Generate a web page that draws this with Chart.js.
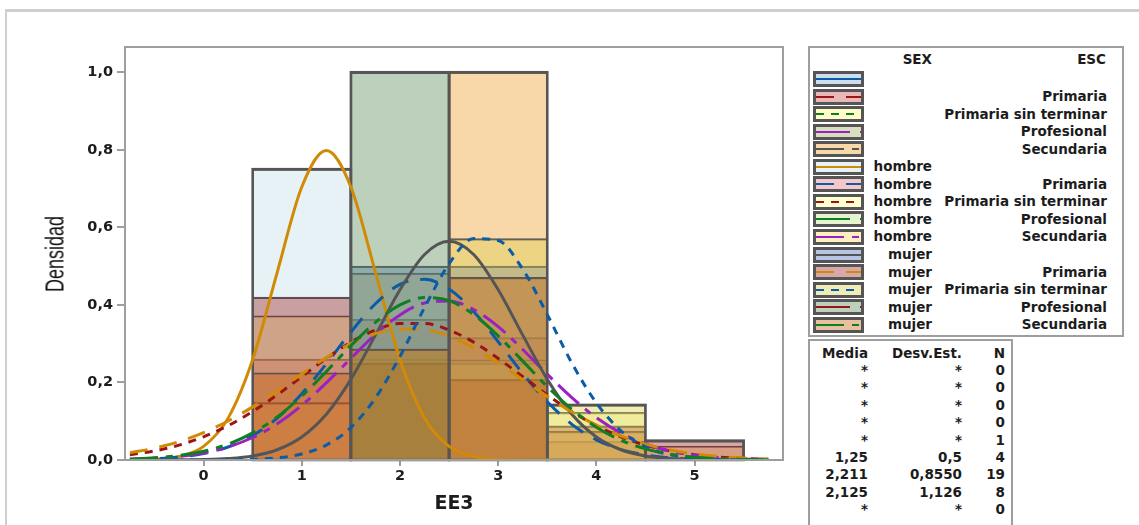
<!DOCTYPE html>
<html>
<head>
<meta charset="utf-8">
<script src="https://cdn.jsdelivr.net/npm/chart.js@4.4.1/dist/chart.umd.min.js"></script>
<style>
body{margin:0;background:#fff;width:1139px;height:525px;overflow:hidden;position:relative;font-family:'DejaVu Sans',sans-serif;color:#1c1c1c;}
#frame{position:absolute;left:5px;top:9px;width:1300px;height:700px;border-left:2px solid #cfcfcf;border-top:3px solid #cfcfcf;}
#chart{position:absolute;left:0;top:0;}
.ttl{position:absolute;white-space:nowrap;}
#ytitle{left:55px;top:254px;font-family:'Liberation Sans',sans-serif;font-size:25px;color:#111;transform:translate(-50%,-50%) rotate(-90deg) scale(0.72,1);}
#xtitle{left:454px;top:502px;font-size:19px;font-weight:700;transform:translate(-50%,-50%);}
.box{position:absolute;border:2px solid #9e9e9e;background:#fff;font-size:13.5px;font-weight:700;}
#legend{left:808px;top:46px;width:312px;height:287px;}
#stats{left:808px;top:339px;width:201px;height:230px;}
.cell{position:absolute;text-align:right;line-height:17px;height:17px;white-space:nowrap;}
.sw{position:absolute;left:3px;width:45px;height:10px;border:3px solid #555;}
</style>
</head>
<body>
<div id="frame"></div>
<canvas id="chart" width="1139" height="525"></canvas>
<div class="ttl" id="ytitle">Densidad</div>
<div class="ttl" id="xtitle">EE3</div>
<div class="box" id="legend"></div>
<div class="box" id="stats"></div>
<script>
// intervalos del histograma y marcas de los ejes
var binCenters = [1, 2, 3, 4, 5];
var xTicks = [0, 1, 2, 3, 4, 5];
var yTicks = [0, 0.2, 0.4, 0.6, 0.8, 1.0];

// grupos SEX / ESC (orden de la leyenda)
var sexLabels = ['', '', '', '', '', 'hombre', 'hombre', 'hombre', 'hombre', 'hombre', 'mujer', 'mujer', 'mujer', 'mujer', 'mujer'];
var escLabels = ['', 'Primaria', 'Primaria sin terminar', 'Profesional', 'Secundaria', '', 'Primaria', 'Primaria sin terminar', 'Profesional', 'Secundaria', '', 'Primaria', 'Primaria sin terminar', 'Profesional', 'Secundaria'];

// tabla Media / Desv.Est. / N
var mediaCol = ['*', '*', '*', '*', '*', '1,25', '2,211', '2,125', '*'];
var desvCol = ['*', '*', '*', '*', '*', '0,5', '0,8550', '1,126', '*'];
var nCol = ['0', '0', '0', '0', '1', '4', '19', '8', '0'];

// densidad de cada grupo por intervalo
var densBlankSec = [null, null, 1.0, null, null];
var densHombre = [0.75, 0.26, null, null, null];
var densHombrePri = [0.26, 0.363, 0.316, 0.048, null];
var densHombrePST = [0.372, 0.25, 0.249, 0.123, null];
var densHombreSec = [0.148, 0.482, 0.258, 0.074, 0.036];
var densMujer = [null, 0.5, 0.5, null, null];
var densMujerPri = [0.42, 0.25, 0.208, 0.088, 0.05];
var densMujerPST = [null, 0.286, 0.571, 0.142, null];
var densMujerProf = [null, 1.0, null, null, null];
var densMujerSec = [0.225, 0.286, 0.471, null, null];

// curvas de ajuste normal
var xCurve = [-0.75, -0.5, -0.25, 0, 0.25, 0.5, 0.75, 1, 1.25, 1.5, 1.75, 2, 2.25, 2.5, 2.75, 3, 3.25, 3.5, 3.75, 4, 4.25, 4.5, 4.75, 5, 5.25, 5.5, 5.75];
var curveHombre = [0.0003, 0.0017, 0.0089, 0.035, 0.108, 0.259, 0.484, 0.704, 0.798, 0.704, 0.484, 0.259, 0.108, 0.035, 0.0089, 0.0017, 0.0003, 0, 0, 0, 0, 0, 0, 0, 0, 0, 0];
var curveHombrePri = [0.0012, 0.0031, 0.0074, 0.0165, 0.0336, 0.063, 0.108, 0.171, 0.248, 0.330, 0.403, 0.453, 0.466, 0.441, 0.383, 0.305, 0.223, 0.150, 0.092, 0.052, 0.027, 0.013, 0.0057, 0.0023, 0.0008, 0.0003, 0.0001];
var curveHombrePST = [0.0136, 0.0234, 0.0383, 0.0597, 0.0886, 0.125, 0.168, 0.215, 0.262, 0.304, 0.335, 0.352, 0.352, 0.335, 0.304, 0.262, 0.215, 0.168, 0.125, 0.0886, 0.0597, 0.0383, 0.0234, 0.0136, 0.0075, 0.0040, 0.0020];
var curveHombreSec = [0.0020, 0.0044, 0.0093, 0.0183, 0.0337, 0.058, 0.0934, 0.141, 0.199, 0.262, 0.324, 0.374, 0.405, 0.410, 0.388, 0.344, 0.285, 0.221, 0.161, 0.109, 0.0694, 0.0413, 0.0230, 0.0120, 0.0058, 0.0027, 0.0011];
var curveMujer = [0, 0.0001, 0.0003, 0.0011, 0.0036, 0.0103, 0.0264, 0.0595, 0.118, 0.208, 0.322, 0.439, 0.530, 0.564, 0.530, 0.439, 0.322, 0.208, 0.118, 0.0595, 0.0264, 0.0103, 0.0036, 0.0011, 0.0003, 0.0001, 0];
var curveMujerPri = [0.0186, 0.0304, 0.0474, 0.0707, 0.1006, 0.137, 0.178, 0.222, 0.264, 0.300, 0.326, 0.338, 0.336, 0.319, 0.289, 0.250, 0.207, 0.164, 0.124, 0.0899, 0.0621, 0.0410, 0.0259, 0.0156, 0.0090, 0.0050, 0.0026];
var curveMujerPST = [0, 0, 0, 0.0001, 0.0005, 0.0017, 0.0055, 0.0155, 0.0384, 0.0836, 0.160, 0.267, 0.393, 0.506, 0.571, 0.566, 0.492, 0.375, 0.250, 0.147, 0.0754, 0.0339, 0.0134, 0.0046, 0.0014, 0.0004, 0.0001];
var curveMujerSec = [0.0024, 0.0055, 0.0115, 0.0224, 0.041, 0.070, 0.111, 0.165, 0.228, 0.295, 0.355, 0.400, 0.419, 0.411, 0.375, 0.320, 0.255, 0.189, 0.131, 0.0847, 0.0511, 0.0288, 0.0151, 0.0074, 0.0034, 0.0014, 0.0006];

// estilos por fila de la leyenda
var fillColors = ['#cddeee', '#e8b8b8', '#fffcc8', '#d8dfc0', '#f8d8a8', '#e6f2f6', '#f4c8c8', '#ffffd0', '#e8f4d0', '#ffefc0', '#b8c4e4', '#d8a8a8', '#f0ecb8', '#bcd0bc', '#e8c0a0'];
var lineColors = ['#0b5ba6', '#9c1414', '#0e7f22', '#9a22c2', '#555555', '#d18a06'];
var dashes = [[], [18, 12], [8, 7], [34, 10], [28, 8, 7, 8]];

function lineColor(k) { return lineColors[k % 6]; }
function lineDash(k) { return dashes[k % 5]; }

// color translucido que sobre blanco da el color de la muestra
function translucent(hex, a) {
  var out = [];
  for (var i = 0; i < 3; i++) {
    var v = parseInt(hex.substr(1 + 2 * i, 2), 16);
    var c = Math.round((v - 255 * (1 - a)) / a);
    out.push(Math.max(0, Math.min(255, c)));
  }
  return 'rgba(' + out[0] + ',' + out[1] + ',' + out[2] + ',' + a + ')';
}

function toPoints(xs, ys) {
  var pts = [];
  for (var i = 0; i < xs.length; i++) {
    pts.push({x: xs[i], y: ys[i]});
  }
  return pts;
}

var histGroups = [
  [4, densBlankSec], [5, densHombre], [6, densHombrePri], [7, densHombrePST], [9, densHombreSec],
  [10, densMujer], [11, densMujerPri], [12, densMujerPST], [13, densMujerProf], [14, densMujerSec]
];
var curveGroups = [
  [5, curveHombre], [6, curveHombrePri], [7, curveHombrePST], [9, curveHombreSec],
  [10, curveMujer], [11, curveMujerPri], [12, curveMujerPST], [14, curveMujerSec]
];

var datasets = [];
for (var i = 0; i < curveGroups.length; i++) {
  var k = curveGroups[i][0];
  datasets.push({
    type: 'line',
    data: toPoints(xCurve, curveGroups[i][1]),
    borderColor: lineColor(k),
    borderWidth: 3,
    borderDash: lineDash(k),
    pointRadius: 0,
    fill: false,
    cubicInterpolationMode: 'monotone',
    order: curveGroups.length - i
  });
}
for (var i = 0; i < histGroups.length; i++) {
  var k = histGroups[i][0];
  datasets.push({
    type: 'bar',
    data: toPoints(binCenters, histGroups[i][1]),
    backgroundColor: translucent(fillColors[k], 0.4),
    borderColor: '#555555',
    borderWidth: {top: 1.5, left: 1, right: 1, bottom: 0},
    grouped: false,
    barPercentage: 1,
    categoryPercentage: 1,
    order: 100 - i
  });
}

// contorno exterior de cada intervalo y marco del area de trazado
var plotFrame = {
  id: 'plotFrame',
  beforeDatasetsDraw: function(chart) { chart.$envDone = false; },
  beforeDatasetDraw: function(chart, args) {
    if (args.meta.type !== 'line' || chart.$envDone) return;
    chart.$envDone = true;
    var ctx = chart.ctx, xs = chart.scales.x, ys = chart.scales.y;
    ctx.save();
    ctx.strokeStyle = '#555555';
    ctx.lineWidth = 2.5;
    for (var b = 0; b < binCenters.length; b++) {
      var top = 0;
      for (var g = 0; g < histGroups.length; g++) {
        var v = histGroups[g][1][b];
        if (v != null && v > top) top = v;
      }
      if (top <= 0) continue;
      var x0 = xs.getPixelForValue(binCenters[b] - 0.5);
      var x1 = xs.getPixelForValue(binCenters[b] + 0.5);
      var y0 = ys.getPixelForValue(top);
      var y1 = ys.getPixelForValue(0);
      ctx.strokeRect(x0, y0, x1 - x0, y1 - y0);
    }
    ctx.restore();
  },
  afterDraw: function(chart) {
    var a = chart.chartArea, ctx = chart.ctx;
    ctx.save();
    ctx.strokeStyle = '#9e9e9e';
    ctx.lineWidth = 2;
    ctx.strokeRect(a.left, a.top, a.right - a.left, a.bottom - a.top);
    ctx.restore();
  }
};

var tickFont = {family: 'DejaVu Sans', size: 14.5, weight: 'bold'};

new Chart(document.getElementById('chart'), {
  type: 'bar',
  data: {datasets: datasets},
  options: {
    responsive: false,
    animation: false,
    devicePixelRatio: 1,
    layout: {padding: {left: 0, top: 47, right: 356, bottom: 0}},
    plugins: {legend: {display: false}, tooltip: {enabled: false}},
    scales: {
      x: {
        type: 'linear', min: -0.8, max: 5.9, offset: false,
        grid: {display: true, offset: false, drawOnChartArea: false, tickLength: 6, color: '#9e9e9e', lineWidth: 2},
        border: {display: false},
        ticks: {font: tickFont, color: '#1c1c1c', padding: 2},
        afterBuildTicks: function(s) { s.ticks = xTicks.map(function(v) { return {value: v}; }); },
        afterFit: function(s) { s.height = 65; }
      },
      y: {
        type: 'linear', min: 0, max: 1.065,
        grid: {display: true, drawOnChartArea: false, tickLength: 8, color: '#9e9e9e', lineWidth: 2},
        border: {display: false},
        ticks: {font: tickFont, color: '#1c1c1c', padding: 4,
          callback: function(v) { return v.toFixed(1).replace('.', ','); }},
        afterBuildTicks: function(s) { s.ticks = yTicks.map(function(v) { return {value: v}; }); },
        afterFit: function(s) { s.width = 125; }
      }
    }
  },
  plugins: [plotFrame]
});

// leyenda
function addCell(parent, text, left, width, top) {
  var d = document.createElement('div');
  d.className = 'cell';
  d.style.left = left + 'px';
  d.style.width = width + 'px';
  d.style.top = top + 'px';
  d.textContent = text;
  parent.appendChild(d);
}

var legend = document.getElementById('legend');
addCell(legend, 'SEX', 50, 72, 3);
addCell(legend, 'ESC', 100, 196, 3);
for (var r = 0; r < sexLabels.length; r++) {
  var cy = 31 + r * 17.55;
  var sw = document.createElement('div');
  sw.className = 'sw';
  sw.style.top = (cy - 8) + 'px';
  sw.style.background = fillColors[r];
  var d = lineDash(r).join(' ');
  sw.innerHTML = '<svg width="45" height="10" style="position:absolute;left:0;top:0">' +
    '<line x1="0" y1="5" x2="45" y2="5" stroke="' + lineColor(r) + '" stroke-width="2.2"' +
    (d ? ' stroke-dasharray="' + d + '"' : '') + '/></svg>';
  legend.appendChild(sw);
  addCell(legend, sexLabels[r], 50, 72, cy - 8.5);
  addCell(legend, escLabels[r], 100, 197, cy - 8.5);
}

// tabla de estadisticos
var stats = document.getElementById('stats');
addCell(stats, 'Media', 0, 58, 4);
addCell(stats, 'Desv.Est.', 60, 92, 4);
addCell(stats, 'N', 160, 35, 4);
for (var r = 0; r < mediaCol.length; r++) {
  var ty = 21 + r * 17.4;
  addCell(stats, mediaCol[r], 0, 58, ty);
  addCell(stats, desvCol[r], 60, 92, ty);
  addCell(stats, nCol[r], 160, 35, ty);
}
</script>
</body>
</html>
